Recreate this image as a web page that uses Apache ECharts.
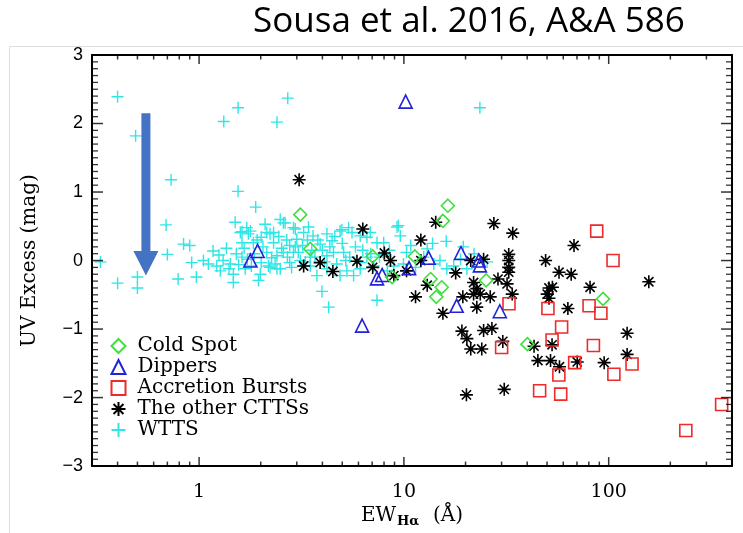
<!DOCTYPE html>
<html>
<head>
<meta charset="utf-8">
<title>UV excess vs EW(Hα)</title>
<script src="https://cdn.jsdelivr.net/npm/echarts@6/dist/echarts.min.js"></script>
<style>
  html, body { margin: 0; padding: 0; background: #ffffff; }
  #chart { width: 743px; height: 533px; }
</style>
</head>
<body>
<div id="chart"></div>
<script>
// ---- data: [EW(Hα) in Å, UV excess in mag] ----
const coldSpot = [
  [3.12, 0.67], [3.49, 0.17], [7.04, 0.06], [8.76, -0.24], [11.3, 0.06],
  [16.4, 0.80], [15.5, 0.58], [13.5, -0.27], [15.3, -0.39], [14.4, -0.53],
  [25.2, -0.29], [40.1, -1.22], [93.8, -0.56]
];
const dippers = [
  [1.78, 0.00], [1.93, 0.14], [10.2, 2.32], [6.25, -0.95], [7.39, -0.26],
  [7.83, -0.21], [10.6, -0.11], [13.2, 0.04], [18.1, -0.66], [19.0, 0.11],
  [23.2, 0.00], [23.5, -0.07], [29.4, -0.74]
];
const accretionBursts = [
  [87.4, 0.43], [105, 0.00], [80.2, -0.66], [91.6, -0.77], [50.5, -0.70],
  [32.6, -0.63], [30.0, -1.27], [58.9, -0.97], [52.9, -1.16], [84.2, -1.24],
  [130, -1.51], [106, -1.66], [68.2, -1.49], [57.1, -1.67], [46.0, -1.90],
  [58.3, -1.95], [356, -2.10], [238, -2.48]
];
const otherCTTS = [
  [3.08, 1.18], [6.3, 0.46], [14.3, 0.56], [12.1, 0.30], [27.5, 0.54],
  [34.0, 0.40], [3.24, -0.08], [3.9, -0.03], [4.5, -0.16], [5.9, -0.01],
  [7.04, -0.10], [8.03, 0.11], [8.6, 0.00], [8.93, -0.22], [10.3, -0.15],
  [12.1, 0.00], [13.0, -0.36], [11.4, -0.53], [15.5, -0.77], [17.9, -0.18],
  [21.2, 0.00], [24.5, 0.02], [19.4, -0.53], [21.9, -0.32], [22.7, -0.41],
  [21.9, -0.49], [23.6, -0.49], [26.4, -0.53], [22.7, -0.68], [28.8, -0.27],
  [19.2, -1.03], [20.3, -1.14], [21.2, -1.29], [24.0, -1.29], [24.5, -1.02],
  [26.9, -0.99], [20.2, -1.96], [67.7, 0.22], [49.2, 0.00], [57.2, -0.17],
  [65.6, -0.20], [157, -0.31], [81.1, -0.39], [51.1, -0.40], [53.1, -0.39],
  [50.1, -0.49], [51.1, -0.55], [63.2, -0.70], [32.5, 0.09], [32.5, 0.00],
  [32.5, -0.10], [32.5, -0.17], [31.9, -0.34], [33.8, -0.49], [30.4, -1.18],
  [43.2, -1.25], [52.9, -1.23], [123, -1.06], [123, -1.37], [95, -1.49],
  [70.2, -1.48], [45.1, -1.46], [52.0, -1.46], [57.5, -1.55], [30.9, -1.88]
];
const wtts = [
  [0.33, -0.02], [0.40, 2.39], [0.49, 1.82], [0.40, -0.33], [0.50, -0.24],
  [0.50, -0.40], [0.69, 0.52], [0.70, 0.09], [0.73, 1.18], [0.84, 0.24],
  [0.90, 0.22], [0.79, -0.27], [0.97, -0.24], [0.92, -0.03],
  [1.32, 2.03], [1.55, 2.23], [2.40, 2.02], [2.71, 2.37], [23.5, 2.23],
  [1.55, 1.01], [1.89, 0.78],
  [1.05, 0.00], [1.11, -0.05], [1.17, 0.14], [1.22, -0.08], [1.27, -0.15],
  [1.31, 0.00], [1.42, -0.05], [1.47, -0.20], [1.47, -0.32], [1.50, 0.56],
  [1.59, 0.41], [1.62, 0.42], [1.62, 0.26], [1.62, 0.05], [1.68, -0.12],
  [1.71, 0.48], [1.74, 0.39], [1.78, 0.43], [1.84, 0.26], [1.95, -0.29],
  [1.99, -0.20], [2.01, 0.34], [2.01, -0.03], [2.10, 0.53], [2.14, 0.41],
  [2.14, 0.12], [2.18, -0.08], [2.22, 0.39], [2.22, -0.10], [2.31, 0.26],
  [2.31, 0.41], [2.40, 0.07], [2.40, -0.12], [2.49, 0.60], [2.49, -0.12],
  [2.58, 0.12], [2.58, 0.55], [2.63, 0.55], [2.77, 0.22], [2.77, -0.03],
  [2.89, 0.48], [2.89, 0.12], [2.95, 0.46], [3.00, 0.31], [3.12, 0.00],
  [3.24, 0.41], [3.42, 0.49], [3.49, -0.08], [3.49, 0.05], [3.60, 0.36],
  [3.76, -0.22], [3.90, 0.24], [3.98, -0.45], [4.21, 0.39], [4.21, 0.07],
  [4.21, -0.12], [4.29, -0.68], [4.46, 0.29], [4.53, 0.12], [4.88, 0.43],
  [4.88, -0.22], [4.98, 0.45], [5.08, 0.12], [5.27, -0.15], [5.37, 0.48],
  [5.44, 0.05], [5.58, 0.41], [5.68, -0.22], [6.12, 0.36], [6.12, -0.03],
  [6.12, -0.12], [6.60, 0.34], [6.60, 0.05], [6.85, 0.41], [7.13, -0.08],
  [7.39, 0.26], [7.39, -0.58], [7.97, 0.26], [7.97, 0.09], [8.3, -0.15],
  [8.93, -0.08], [9.26, 0.49], [9.4, 0.51], [9.6, 0.36], [9.95, -0.05],
  [10.3, 0.12], [11.4, -0.10], [13.0, 0.17], [14.0, -0.05], [15.0, 0.00],
  [16.1, 0.28], [16.2, -0.12], [17.5, -0.08], [18.9, 0.02], [20.3, -0.12],
  [1.25, 0.08], [1.36, 0.18], [1.40, -0.12], [1.52, 0.10], [1.56, -0.06],
  [1.66, 0.18], [1.72, 0.02], [1.80, -0.08], [1.86, 0.10], [1.92, 0.30],
  [2.05, 0.20], [2.26, 0.04], [2.35, -0.05], [2.45, 0.35], [2.53, 0.18],
  [2.68, 0.30], [2.70, 0.05], [2.83, -0.10], [2.95, 0.20], [3.05, 0.12],
  [3.20, 0.22], [3.30, -0.02], [3.38, 0.30], [3.55, 0.15], [3.68, 0.05],
  [3.80, 0.30], [4.00, 0.15], [4.10, -0.02], [4.35, 0.20], [4.60, 0.35],
  [4.70, -0.05], [5.00, 0.25], [5.20, 0.00], [5.80, 0.20], [6.30, 0.15],
  [6.90, 0.10], [7.60, 0.05], [8.50, 0.15], [10.8, 0.22], [12.5, 0.05],
  [13.8, 0.25], [19.5, 0.20], [22.0, 0.10], [25.5, -0.02]
];

// axis ticks
const xMajorTicks = [1, 10, 100];
const xMinorTicks = [0.4, 0.5, 0.6, 0.7, 0.8, 0.9, 2, 3, 4, 5, 6, 7, 8, 9,
  20, 30, 40, 50, 60, 70, 80, 90, 200, 300];
const xRange = [0.3, 400];
const yRange = [-3, 3];
const yMinorPerUnit = 10;

// downward arrow: [EW, top of shaft, base of head, tip]
const arrowSpec = [[0.55, 2.15, 0.14, -0.22]];

const seriesNames = ['Cold Spot', 'Dippers', 'Accretion Bursts', 'The other CTTSs', 'WTTS'];

const serifFont = '"DejaVu Serif", serif';
const PLUS = 'path://M5,0L5,10M0,5L10,5';
const ASTER = 'path://M5,0L5,10M0,5L10,5M1.46,1.46L8.54,8.54M1.46,8.54L8.54,1.46';

const chart = echarts.init(document.getElementById('chart'), null, { renderer: 'canvas' });

// tick positions along the frame (ticks point into the plot on all four sides)
const yMajorVals = [];
const yMinorVals = [];
for (let i = yRange[0] * yMinorPerUnit; i <= yRange[1] * yMinorPerUnit; i++) {
  (i % yMinorPerUnit === 0 ? yMajorVals : yMinorVals).push(i / yMinorPerUnit);
}

// a tick mark drawn as a thin filled bar anchored on the frame
function tickSeries(points, size, offset) {
  return {
    type: 'scatter', data: points, symbol: 'rect', symbolSize: size, symbolOffset: offset,
    itemStyle: { color: '#000', borderWidth: 0 }, silent: true, clip: false, z: 3,
    emphasis: { disabled: true }
  };
}
const tickSeriesList = [
  tickSeries(xMajorTicks.map(v => [v, yRange[0]]), [1.5, 9], [0, -4.5]),
  tickSeries(xMajorTicks.map(v => [v, yRange[1]]), [1.5, 9], [0, 4.5]),
  tickSeries(xMinorTicks.map(v => [v, yRange[0]]), [1.5, 4.5], [0, -2.25]),
  tickSeries(xMinorTicks.map(v => [v, yRange[1]]), [1.5, 4.5], [0, 2.25]),
  tickSeries(yMajorVals.map(v => [xRange[0], v]), [11, 1.5], [5.5, 0]),
  tickSeries(yMajorVals.map(v => [xRange[1], v]), [11, 1.5], [-5.5, 0]),
  tickSeries(yMinorVals.map(v => [xRange[0], v]), [6, 1.3], [3, 0]),
  tickSeries(yMinorVals.map(v => [xRange[1], v]), [6, 1.3], [-3, 0])
];

function xAxisDef(pos, withLabel) {
  return {
    type: 'log', logBase: 10, min: xRange[0], max: xRange[1], position: pos,
    axisLine: { show: true, onZero: false, lineStyle: { color: '#000', width: 2 } },
    axisTick: { show: false },
    axisLabel: withLabel ? {
      show: true, customValues: xMajorTicks, margin: 16,
      fontFamily: serifFont, fontSize: 19, color: '#000',
      formatter: v => String(Math.round(v))
    } : { show: false },
    splitLine: { show: false },
    minorTick: { show: false }
  };
}

function yAxisDef(pos, withLabel) {
  const ax = {
    type: 'value', min: yRange[0], max: yRange[1], interval: 1, position: pos,
    axisLine: { show: true, onZero: false, lineStyle: { color: '#000', width: 2 } },
    axisTick: { show: false },
    minorTick: { show: false },
    splitLine: { show: false },
    minorSplitLine: { show: false },
    axisLabel: withLabel ? {
      show: true, margin: 9, fontFamily: '"Liberation Sans", Arial, sans-serif',
      fontSize: 18, color: '#000',
      formatter: v => (v < 0 ? '\u2212' + Math.abs(v) : String(v))
    } : { show: false }
  };
  if (withLabel) {
    ax.name = 'UV Excess (mag)';
    ax.nameLocation = 'middle';
    ax.nameGap = 52;
    ax.nameTextStyle = { fontFamily: serifFont, fontSize: 20, color: '#000' };
  }
  return ax;
}

const xMain = xAxisDef('bottom', true);
xMain.name = '{a|EW}{b|H\u03b1}{a|  (\u00c5)}';
xMain.nameLocation = 'middle';
xMain.nameGap = 36;
xMain.nameTextStyle = {
  color: '#000',
  rich: {
    a: { fontFamily: serifFont, fontSize: 20, color: '#000', lineHeight: 26, verticalAlign: 'top' },
    b: { fontFamily: serifFont, fontSize: 13, color: '#000', fontWeight: 'bold', lineHeight: 26,
         verticalAlign: 'top', padding: [9, 1, 0, 1] }
  }
};

const hollow = (c, w) => ({ color: 'none', borderColor: c, borderWidth: w, opacity: 1 });

// the thick blue arrow, drawn in data coordinates
function renderArrow(params, api) {
  const x = api.value(0);
  const pTop = api.coord([x, api.value(1)]);
  const pHead = api.coord([x, api.value(2)]);
  const pTip = api.coord([x, api.value(3)]);
  const cx = pTop[0], shaftHalf = 4.5, headHalf = 12.5;
  return {
    type: 'polygon',
    shape: { points: [
      [cx - shaftHalf, pTop[1]], [cx + shaftHalf, pTop[1]],
      [cx + shaftHalf, pHead[1]], [cx + headHalf, pHead[1]],
      [cx, pTip[1]],
      [cx - headHalf, pHead[1]], [cx - shaftHalf, pHead[1]]
    ] },
    style: { fill: '#4472c4', stroke: 'none' }
  };
}

const option = {
  animation: false,
  backgroundColor: '#ffffff',
  grid: { left: 92, right: 11, top: 55, bottom: 65 },
  graphic: [
    { type: 'rect', left: 7, top: 44, silent: true, z: -10,
      shape: { width: 800, height: 600 },
      style: { fill: 'none', stroke: '#dedede', lineWidth: 1 } },
    { type: 'text', left: 253, top: 5, silent: true,
      style: { text: 'Sousa et al. 2016, A&A 586', fill: '#000',
               font: '35px "Open Sans", sans-serif' } }
  ],
  xAxis: [xMain, xAxisDef('top', false)],
  yAxis: [yAxisDef('left', true), yAxisDef('right', false)],
  legend: {
    show: true, orient: 'vertical', left: 109, top: 336, padding: 0,
    itemWidth: 14, itemHeight: 14, itemGap: 1,
    data: seriesNames,
    textStyle: { fontFamily: serifFont, fontSize: 20, color: '#000', padding: [0, 0, 0, 7] },
    selectedMode: false
  },
  series: tickSeriesList.concat([
    { name: 'WTTS', type: 'scatter', data: wtts, symbol: PLUS, symbolSize: 12,
      itemStyle: hollow('#2ee6e6', 1.4) },
    { name: 'The other CTTSs', type: 'scatter', data: otherCTTS, symbol: ASTER, symbolSize: 13,
      itemStyle: hollow('#000000', 1.6) },
    { name: 'Accretion Bursts', type: 'scatter', data: accretionBursts, symbol: 'rect', symbolSize: 12,
      itemStyle: hollow('#ee2a2a', 1.6) },
    { name: 'Dippers', type: 'scatter', data: dippers, symbol: 'triangle', symbolSize: 13,
      itemStyle: hollow('#2222d8', 1.6) },
    { name: 'Cold Spot', type: 'scatter', data: coldSpot, symbol: 'diamond', symbolSize: 13,
      itemStyle: hollow('#3ee03e', 1.6) },
    { name: 'arrow', type: 'custom', data: arrowSpec, renderItem: renderArrow,
      silent: true, clip: false, z: 10,
      encode: { x: 0, y: [1, 2, 3] } }
  ])
};

chart.setOption(option);
</script>
</body>
</html>
